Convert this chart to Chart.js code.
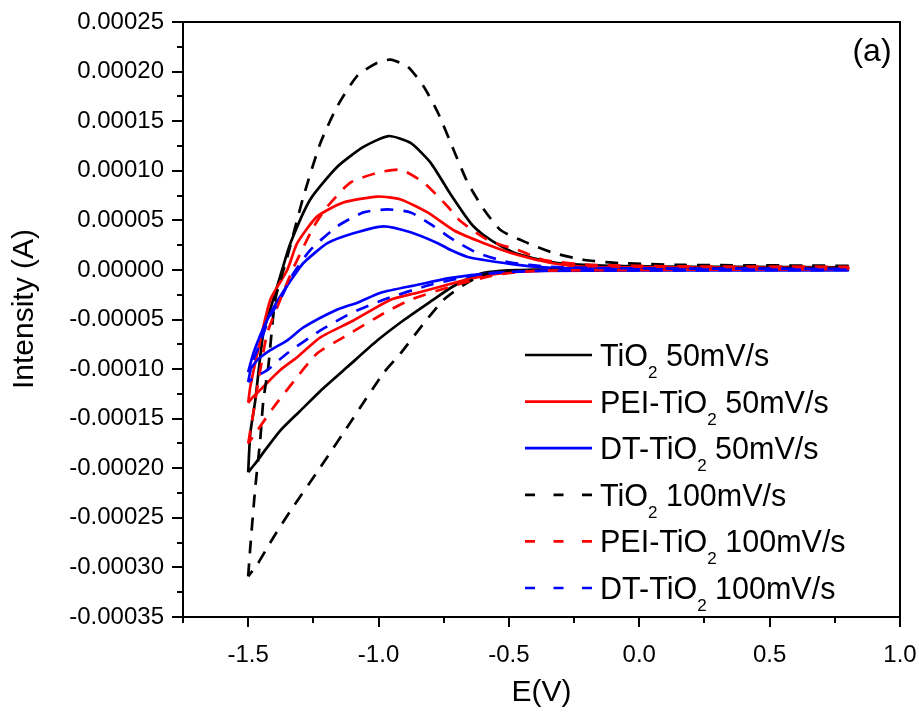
<!DOCTYPE html>
<html>
<head>
<meta charset="utf-8">
<script src="https://cdn.jsdelivr.net/npm/chart.js@4.4.1/dist/chart.umd.min.js"></script>
<style>
  html, body { margin: 0; padding: 0; background: #fff; }
  #wrap { width: 919px; height: 713px; }
</style>
</head>
<body>
<div id="wrap"><canvas id="myChart" width="919" height="713"></canvas></div>
<script>
// cyclic voltammograms, potential (V) and current (A), forward scan then return scan
const E_TIO2_50 = [-1.5, -1.492, -1.473, -1.442, -1.404, -1.37, -1.338, -1.262, -1.158, -1.058, -0.962, -0.877, -0.8, -0.723, -0.646, -0.596, -0.53, -0.465, -0.338, -0.21, 0.0, 0.4, 0.8,
                   0.8, 0.4, 0.0, -0.4, -0.5, -0.596, -0.658, -0.723, -0.79, -0.9, -1.004, -1.12, -1.223, -1.3, -1.377, -1.43, -1.475, -1.5];
const I_TIO2_50 = [-2.04e-4, -1.65e-4, -1.32e-4, -6.4e-5, -3.0e-5, 0, 2.7e-5, 7.1e-5, 1.04e-4, 1.24e-4, 1.35e-4, 1.28e-4, 1.08e-4, 7.6e-5, 4.7e-5, 3.5e-5, 2.4e-5, 1.6e-5, 8e-6, 5e-6, 3.5e-6, 3e-6, 2.5e-6,
                   1e-6, 1e-6, 0.5e-6, 0, -0.5e-6, -3e-6, -9e-6, -1.8e-5, -3.0e-5, -5.0e-5, -7.1e-5, -9.8e-5, -1.22e-4, -1.42e-4, -1.62e-4, -1.80e-4, -1.96e-4, -2.04e-4];

const E_PEI_50 = [-1.5, -1.492, -1.462, -1.415, -1.35, -1.312, -1.235, -1.135, -1.004, -0.915, -0.812, -0.712, -0.596, -0.465, -0.338, -0.21, 0.0, 0.8,
                  0.8, 0.0, -0.4, -0.55, -0.65, -0.75, -0.85, -0.954, -1.096, -1.223, -1.312, -1.377, -1.454, -1.481, -1.5];
const I_PEI_50 = [-1.34e-4, -1.18e-4, -8.1e-5, -3.0e-5, 0, 2.7e-5, 5.4e-5, 6.8e-5, 7.4e-5, 7.1e-5, 5.8e-5, 4.0e-5, 2.7e-5, 1.5e-5, 7e-6, 3e-6, 2.5e-6, 2e-6,
                  1e-6, 0, -1e-6, -4e-6, -9e-6, -1.6e-5, -2.3e-5, -3.0e-5, -5.1e-5, -6.8e-5, -8.8e-5, -1.01e-4, -1.21e-4, -1.28e-4, -1.34e-4];

const E_DT_50 = [-1.5, -1.48, -1.446, -1.415, -1.385, -1.33, -1.288, -1.196, -1.096, -0.981, -0.877, -0.773, -0.723, -0.658, -0.596, -0.465, -0.338, 0.0, 0.8,
                 0.8, 0.0, -0.4, -0.55, -0.723, -0.85, -0.992, -1.081, -1.158, -1.288, -1.35, -1.415, -1.465, -1.5];
const I_DT_50 = [-1.03e-4, -8.4e-5, -6.1e-5, -4.4e-5, -3.0e-5, -8e-6, 7e-6, 2.7e-5, 3.7e-5, 4.4e-5, 3.8e-5, 2.7e-5, 2.0e-5, 1.3e-5, 1.0e-5, 5e-6, 2e-6, 0.5e-6, 0,
                 -0.5e-6, -0.5e-6, -1e-6, -3e-6, -8e-6, -1.5e-5, -2.3e-5, -3.3e-5, -4.0e-5, -5.8e-5, -7.1e-5, -8.1e-5, -9.1e-5, -1.03e-4];

const E_TIO2_100 = [-1.5, -1.492, -1.473, -1.454, -1.442, -1.423, -1.396, -1.35, -1.288, -1.223, -1.158, -1.081, -1.004, -0.954, -0.888, -0.827, -0.773, -0.712, -0.658, -0.596, -0.531, -0.427, -0.327, -0.21, -0.081, 0.173, 0.8,
                    0.8, 0.0, -0.4, -0.5, -0.6, -0.673, -0.75, -0.827, -0.915, -0.981, -1.096, -1.223, -1.338, -1.404, -1.465, -1.5];
const I_TIO2_100 = [-3.09e-4, -2.8e-4, -2.2e-4, -1.72e-4, -1.32e-4, -9.8e-5, -3.0e-5, 1.3e-5, 7.4e-5, 1.28e-4, 1.65e-4, 1.96e-4, 2.09e-4, 2.12e-4, 2.05e-4, 1.85e-4, 1.59e-4, 1.21e-4, 8.8e-5, 6.1e-5, 4.0e-5, 2.7e-5, 1.7e-5, 1.0e-5, 7e-6, 5e-6, 4e-6,
                    2e-6, 1e-6, 0, -1e-6, -5e-6, -1.5e-5, -3.0e-5, -5.4e-5, -8.4e-5, -1.04e-4, -1.49e-4, -1.99e-4, -2.43e-4, -2.7e-4, -2.97e-4, -3.09e-4];

const E_PEI_100 = [-1.5, -1.485, -1.462, -1.427, -1.377, -1.33, -1.25, -1.196, -1.108, -1.004, -0.915, -0.827, -0.735, -0.685, -0.58, -0.465, -0.365, -0.185, 0.2, 0.8,
                   0.8, 0.0, -0.4, -0.55, -0.7, -0.877, -0.981, -1.135, -1.235, -1.312, -1.404, -1.465, -1.5];
const I_PEI_100 = [-1.75e-4, -1.52e-4, -1.14e-4, -6.4e-5, -3.0e-5, 0, 4.3e-5, 6.4e-5, 8.8e-5, 9.8e-5, 1.01e-4, 8.8e-5, 6.4e-5, 4.9e-5, 3.0e-5, 2.0e-5, 1.0e-5, 5e-6, 3.5e-6, 3e-6,
                   1e-6, 0, -1e-6, -5e-6, -1.5e-5, -3.0e-5, -4.4e-5, -6.8e-5, -8.4e-5, -1.08e-4, -1.39e-4, -1.62e-4, -1.75e-4];

const E_DT_100 = [-1.5, -1.485, -1.462, -1.415, -1.377, -1.33, -1.262, -1.158, -1.058, -0.966, -0.877, -0.788, -0.723, -0.685, -0.62, -0.504, -0.338, 0.0, 0.8,
                  0.8, 0.0, -0.4, -0.6, -0.8, -0.981, -1.108, -1.223, -1.35, -1.427, -1.48, -1.5];
const I_DT_100 = [-1.13e-4, -9.4e-5, -7.9e-5, -4.6e-5, -3.0e-5, -5e-6, 2.0e-5, 4.4e-5, 5.8e-5, 6.1e-5, 5.8e-5, 4.4e-5, 3.2e-5, 2.6e-5, 1.7e-5, 8e-6, 3e-6, 1.5e-6, 1e-6,
                  0, -0.5e-6, -1e-6, -4e-6, -1.5e-5, -3.0e-5, -4.4e-5, -6.1e-5, -8.4e-5, -1.01e-4, -1.09e-4, -1.13e-4];

// legend labels: [before subscript, subscript, after]
const LABELS = [
    ["TiO", "2", " 50mV/s"],
    ["PEI-TiO", "2", " 50mV/s"],
    ["DT-TiO", "2", " 50mV/s"],
    ["TiO", "2", " 100mV/s"],
    ["PEI-TiO", "2", " 100mV/s"],
    ["DT-TiO", "2", " 100mV/s"]
];
const X_TICKS = [-1.5, -1.0, -0.5, 0.0, 0.5, 1.0];
const Y_TICKS = [0.00025, 0.0002, 0.00015, 0.0001, 0.00005, 0, -0.00005, -0.0001, -0.00015, -0.0002, -0.00025, -0.0003, -0.00035];

const COLORS = ['#000000', '#ff0000', '#0000ff', '#000000', '#ff0000', '#0000ff'];
const FONT = '"Liberation Sans", Arial, sans-serif';

const toPoints = (es, is) => es.map((e, i) => ({ x: e, y: is[i] }));

const series = [
    toPoints(E_TIO2_50, I_TIO2_50),
    toPoints(E_PEI_50, I_PEI_50),
    toPoints(E_DT_50, I_DT_50),
    toPoints(E_TIO2_100, I_TIO2_100),
    toPoints(E_PEI_100, I_PEI_100),
    toPoints(E_DT_100, I_DT_100)
];

const datasets = series.map((pts, i) => ({
    label: LABELS[i].join(''),
    data: pts,
    borderColor: COLORS[i],
    borderWidth: 2.7,
    borderDash: i >= 3 ? [13, 10] : [],
    showLine: true,
    pointRadius: 0,
    tension: 0.2,
    order: 6 - i
}));

// frame, ticks, labels, titles and legend, Origin style
const decor = {
    id: 'decor',
    afterDraw(chart) {
        const { ctx, chartArea: a, scales: { x, y } } = chart;
        ctx.save();
        ctx.strokeStyle = '#000';
        ctx.fillStyle = '#000';
        ctx.lineWidth = 2;
        ctx.setLineDash([]);
        ctx.strokeRect(a.left, a.top, a.right - a.left, a.bottom - a.top);

        // x ticks
        ctx.beginPath();
        for (let k = 0; k <= 11; k++) {
            const v = -1.75 + k * 0.25;
            const px = Math.round(x.getPixelForValue(v));
            const len = (k % 2 === 1) ? 10 : 6;
            ctx.moveTo(px, a.bottom);
            ctx.lineTo(px, a.bottom + len);
        }
        // y ticks
        for (let k = 0; k <= 24; k++) {
            const v = -0.00035 + k * 0.000025;
            const py = Math.round(y.getPixelForValue(v));
            const len = (k % 2 === 0) ? 11 : 6;
            ctx.moveTo(a.left, py);
            ctx.lineTo(a.left - len, py);
        }
        ctx.stroke();

        // tick labels
        ctx.font = '24px ' + FONT;
        ctx.textAlign = 'center';
        ctx.textBaseline = 'middle';
        X_TICKS.forEach(v => {
            ctx.fillText(v.toFixed(1), x.getPixelForValue(v), a.bottom + 38);
        });
        ctx.textAlign = 'right';
        Y_TICKS.forEach(v => {
            ctx.fillText(v.toFixed(5), a.left - 19, y.getPixelForValue(v));
        });

        // axis titles
        ctx.font = '30px ' + FONT;
        ctx.textAlign = 'center';
        ctx.fillText('E(V)', (a.left + a.right) / 2, 693);
        ctx.save();
        ctx.translate(25, 309);
        ctx.rotate(-Math.PI / 2);
        ctx.fillText('Intensity (A)', 0, 0);
        ctx.restore();

        ctx.font = '32px ' + FONT;
        ctx.fillText('(a)', 872, 52);

        // legend
        const rowY = 355, rowH = 46.6;
        LABELS.forEach((parts, i) => {
            const ly = rowY + i * rowH;
            ctx.strokeStyle = COLORS[i];
            ctx.lineWidth = 2.7;
            ctx.setLineDash(i >= 3 ? [10, 18.5] : []);
            ctx.beginPath();
            ctx.moveTo(525, ly);
            ctx.lineTo(592, ly);
            ctx.stroke();

            ctx.setLineDash([]);
            ctx.textAlign = 'left';
            ctx.textBaseline = 'alphabetic';
            let tx = 600;
            ctx.font = '30.5px ' + FONT;
            ctx.fillText(parts[0], tx, ly + 11);
            tx += ctx.measureText(parts[0]).width;
            ctx.font = '17px ' + FONT;
            ctx.fillText(parts[1], tx, ly + 23);
            tx += ctx.measureText(parts[1]).width;
            ctx.font = '30.5px ' + FONT;
            ctx.fillText(parts[2], tx, ly + 11);
        });
        ctx.restore();
    }
};

new Chart(document.getElementById('myChart').getContext('2d'), {
    type: 'scatter',
    data: { datasets: datasets },
    options: {
        responsive: false,
        animation: false,
        layout: { padding: { top: 22, right: 19, left: 0, bottom: 0 } },
        plugins: {
            legend: { display: false },
            tooltip: { enabled: false }
        },
        scales: {
            x: {
                type: 'linear',
                min: -1.75,
                max: 1.0,
                grid: { display: false },
                border: { display: false },
                ticks: { display: false },
                afterFit: (s) => { s.height = 96; }
            },
            y: {
                type: 'linear',
                min: -0.00035,
                max: 0.00025,
                grid: { display: false },
                border: { display: false },
                ticks: { display: false },
                afterFit: (s) => { s.width = 183; }
            }
        }
    },
    plugins: [decor]
});
</script>
</body>
</html>
